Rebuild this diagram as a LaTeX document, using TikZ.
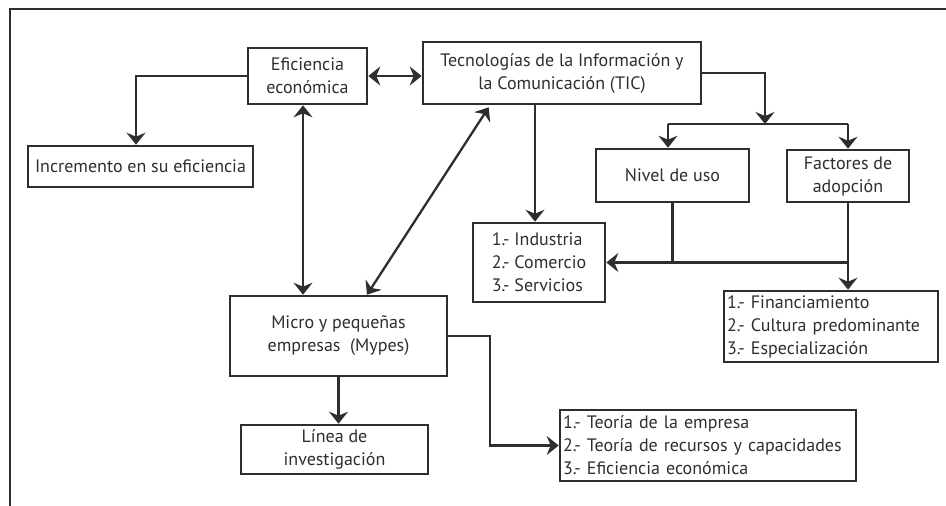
\documentclass[tikz,border=0pt]{standalone}
\usepackage{fontspec}
\setmainfont{PT Sans}
\usetikzlibrary{arrows.meta,calc}
\definecolor{ink}{HTML}{2E2E2E}
\begin{document}
\begin{tikzpicture}[x=1pt,y=-1pt,
    every node/.style={font=\fontsize{18}{23}\selectfont, text=ink},
    box/.style={draw=ink, line width=2.6pt, align=center, inner sep=2pt},
    list/.style={box, align=left},
    link/.style={draw=ink, line width=2.3pt, -{Stealth[length=12pt,width=19pt,inset=4pt]}},
    both/.style={link, {Stealth[length=12pt,width=19pt,inset=4pt]}-{Stealth[length=12pt,width=19pt,inset=4pt]}}]
    \useasboundingbox (0,0) rectangle (946,506);
    \draw[ink, line width=2.8pt] (10,506) -- (10,9) -- (946,9);

    \node[box, minimum width=119, minimum height=56] (efic) at (307.5,76) {Eficiencia\\económica};
    \node[box, minimum width=278, minimum height=62] (tic) at (562,73) {Tecnologías de la Información y\\la Comunicación (TIC)};
    \node[box, minimum width=225, minimum height=41] (incr) at (140.5,166.5) {Incremento en su eficiencia};
    \node[box, minimum width=153, minimum height=53] (nivel) at (672.5,175.5) {Nivel de uso};
    \node[box, minimum width=122, minimum height=52] (fact) at (848,176) {Factores de\\adopción};
    \node[list, minimum width=132, minimum height=79] (ind) at (539,262.5) {1.- Industria\\2.- Comercio\\3.- Servicios};
    \node[list, minimum width=214, minimum height=71, text width=208] (fin) at (831,326.5) {1.- Financiamiento\\2.- Cultura predominante\\3.- Especialización};
    \node[box, minimum width=217, minimum height=80] (micro) at (338.5,336) {Micro y pequeñas\\empresas~ (Mypes)};
    \node[box, minimum width=187, minimum height=49] (linea) at (334.5,449.5) {Línea de\\investigación};
    \node[list, minimum width=296, minimum height=71, text width=290] (teoria) at (708,445.5) {1.- Teoría de la empresa\\2.- Teoría de recursos y capacidades\\3.- Eficiencia económica};

    \coordinate (split) at (765,124);

    \draw[both] (efic.east) -- (efic.east -| tic.west);
    \draw[link] (efic.west) -| ([xshift=-4.5pt]incr.north);
    \draw[both] ([xshift=-4.5pt]efic.south) -- ([xshift=-4.5pt]efic.south |- micro.north);
    \draw[both] ([xshift=28.5pt]micro.north) -- ([xshift=67pt,yshift=-2pt]tic.south west);
    \draw[link] ([xshift=-4pt]ind.north |- tic.south) -- ([xshift=-4pt]ind.north);
    \draw[link] (tic.east) -| (split);
    \draw[ink, line width=2.3pt] ([xshift=-4.5pt]nivel.north |- split) -- (fact.north |- split);
    \foreach \b/\dx in {nivel/-4.5pt, fact/0pt}
        \draw[link] ([xshift=\dx]\b.north |- split) -- ([xshift=\dx]\b.north);
    \draw[ink, line width=2.3pt] (nivel.south) -- (nivel.south |- ind.east);
    \draw[link] (fact.south) -- (fact.south |- fin.north);
    \draw[link] (fact.south |- ind.east) -- (ind.east);
    \draw[link] (micro.south) -- (micro.south |- linea.north);
    \draw[link] (micro.east) -- ++(42,0) |- (teoria.west);
\end{tikzpicture}
\end{document}
